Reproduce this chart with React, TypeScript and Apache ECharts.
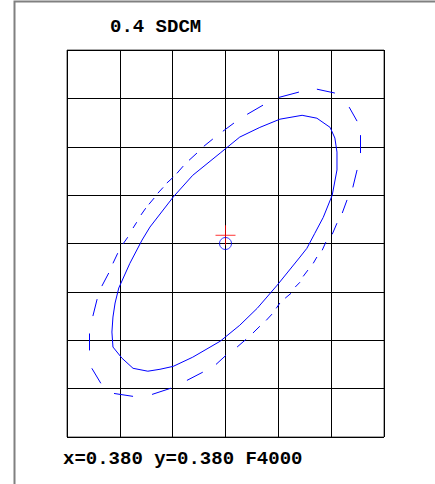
import React, { useEffect, useRef } from "react";
import * as echarts from "echarts";

// Grid units: x cells (-3..3), y cells (-4..4), origin at x=0.380 y=0.380
const xRange = [-3, 3];
const yRange = [-4, 4];
const titleText = "0.4 SDCM";
const footerText = "x=0.380 y=0.380 F4000";

// Solid 0.4 SDCM ellipse (traced)
const solidEllipse: [number, number][] = [
  [-0.1, 1.87], [0.27, 2.2], [0.65, 2.4], [1.03, 2.57], [1.45, 2.65], [1.73, 2.59],
  [1.98, 2.4], [2.07, 2.18], [2.11, 1.89], [2.11, 1.52], [2.02, 1.0], [1.85, 0.54],
  [1.69, 0.21], [1.54, -0.1], [1.41, -0.28], [0.98, -0.86], [0.6, -1.34], [0.27, -1.69],
  [-0.1, -2.02], [-0.62, -2.35], [-0.99, -2.54], [-1.24, -2.6], [-1.47, -2.64], [-1.75, -2.58],
  [-1.96, -2.37], [-2.13, -2.14], [-2.15, -1.83], [-2.13, -1.52], [-2.09, -1.23], [-2.02, -0.92],
  [-1.81, -0.41], [-1.58, 0.07], [-1.43, 0.34], [-0.99, 0.96], [-0.62, 1.41], [-0.1, 1.87],
];

// Dashed outer ellipse: each dash [x1, y1, x2, y2] (traced)
const dashedEllipse: [number, number, number, number][] = [
  [-0.05, 2.32, 0.16, 2.49], [0.41, 2.67, 0.71, 2.86], [1.01, 3.02, 1.39, 3.13],
  [1.73, 3.19, 2.07, 3.11], [2.34, 2.82, 2.49, 2.53], [2.55, 2.24, 2.55, 1.87],
  [2.49, 1.52, 2.41, 1.16], [2.3, 0.9, 2.21, 0.63], [2.11, 0.42, 2.02, 0.19],
  [1.9, 0.03, 1.83, -0.14], [1.73, -0.28, 1.66, -0.41], [1.56, -0.55, 1.47, -0.68],
  [1.41, -0.8, 1.32, -0.9], [1.24, -1.03, 1.13, -1.13], [1.03, -1.23, 0.96, -1.34],
  [0.88, -1.46, 0.77, -1.59], [0.65, -1.71, 0.52, -1.85], [0.39, -1.98, 0.22, -2.14],
  [0.01, -2.31, -0.18, -2.5], [-0.43, -2.66, -0.73, -2.83], [-1.03, -2.99, -1.39, -3.12],
  [-1.75, -3.16, -2.11, -3.1], [-2.36, -2.89, -2.53, -2.58], [-2.57, -2.21, -2.57, -1.86],
  [-2.51, -1.5, -2.43, -1.15], [-2.34, -0.88, -2.21, -0.61], [-2.13, -0.41, -2.04, -0.2],
  [-1.94, -0.01, -1.85, 0.13], [-1.75, 0.32, -1.68, 0.44], [-1.6, 0.59, -1.51, 0.73],
  [-1.45, 0.81, -1.35, 0.94], [-1.28, 1.04, -1.18, 1.16], [-1.11, 1.25, -0.99, 1.37],
  [-0.92, 1.45, -0.8, 1.6], [-0.69, 1.72, -0.54, 1.87], [-0.41, 2.01, -0.24, 2.16],
];

const centerPoint: [number, number] = [0, 0];
const targetPoint: [number, number] = [0, 0.17];

export default function App() {
  const ref = useRef<HTMLDivElement>(null);
  useEffect(() => {
    document.body.style.margin = "0";
    const chart = echarts.init(ref.current!, undefined, { renderer: "svg" });
    const font = "bold 19px 'Liberation Mono', monospace";
    chart.setOption({
      animation: false,
      backgroundColor: "#ffffff",
      grid: {
        left: 67,
        top: 50,
        width: 317,
        height: 387,
        show: true,
        borderColor: "#555",
        borderWidth: 1,
      },
      xAxis: {
        type: "value",
        min: xRange[0],
        max: xRange[1],
        interval: 1,
        axisLine: { show: false },
        axisTick: { show: false },
        axisLabel: { show: false },
        splitLine: { show: true, lineStyle: { color: "#000", width: 1 } },
      },
      yAxis: {
        type: "value",
        min: yRange[0],
        max: yRange[1],
        interval: 1,
        axisLine: { show: false },
        axisTick: { show: false },
        axisLabel: { show: false },
        splitLine: { show: true, lineStyle: { color: "#000", width: 1 } },
      },
      graphic: [
        {
          type: "polyline",
          shape: { points: [[14.5, 484], [14.5, 1.5], [435, 1.5]] },
          style: { stroke: "#808080", lineWidth: 2, fill: "none" },
        },
        {
          type: "text",
          x: 110,
          y: 27,
          style: { text: titleText, font, fill: "#000", textVerticalAlign: "middle" },
        },
        {
          type: "text",
          x: 63,
          y: 459,
          style: { text: footerText, font, fill: "#000", textVerticalAlign: "middle" },
        },
      ],
      series: [
        {
          type: "line",
          data: solidEllipse,
          symbol: "none",
          smooth: false,
          lineStyle: { color: "#0000ff", width: 1 },
          z: 3,
        },
        {
          type: "lines",
          coordinateSystem: "cartesian2d",
          data: dashedEllipse.map((d) => ({ coords: [[d[0], d[1]], [d[2], d[3]]] })),
          lineStyle: { color: "#0000ff", width: 1, opacity: 1 },
          z: 3,
        },
        {
          type: "scatter",
          data: [targetPoint],
          symbol: "path://M0,10L20,10M10,0L10,20",
          symbolSize: 20,
          itemStyle: { color: "transparent", borderColor: "#ff0000", borderWidth: 1 },
          z: 4,
        },
        {
          type: "scatter",
          data: [centerPoint],
          symbol: "circle",
          symbolSize: 12,
          itemStyle: { color: "transparent", borderColor: "#0000ff", borderWidth: 1 },
          z: 5,
        },
      ],
    });
    return () => chart.dispose();
  }, []);
  return <div ref={ref} style={{ width: 435, height: 484 }} />;
}
